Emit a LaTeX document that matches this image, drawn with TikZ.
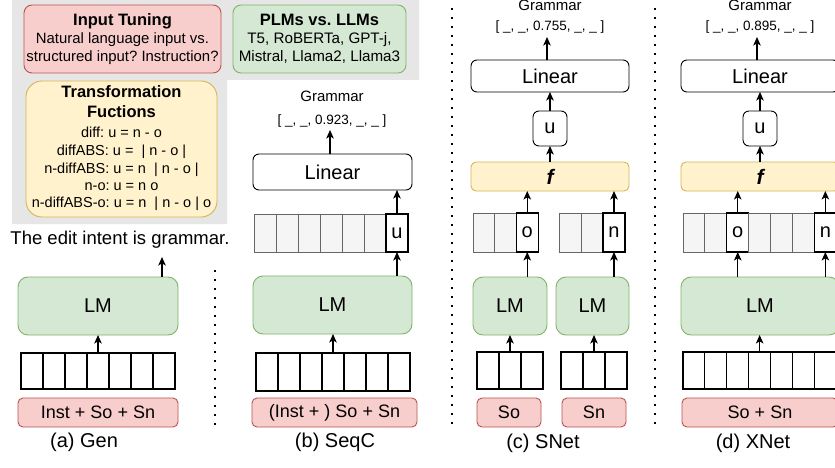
\documentclass[tikz,border=0pt]{standalone}
\usepackage{fontspec}
\setmainfont{Liberation Sans}
\usetikzlibrary{arrows.meta}
\definecolor{bggrey}{HTML}{E6E6E6}
\definecolor{redfill}{HTML}{F8CECC}
\definecolor{redline}{HTML}{B85450}
\definecolor{greenfill}{HTML}{D5E8D4}
\definecolor{greenline}{HTML}{82B366}
\definecolor{yelfill}{HTML}{FFF2CC}
\definecolor{yelline}{HTML}{D6B656}
\definecolor{cellgrey}{HTML}{F5F5F5}
\definecolor{cellline}{HTML}{666666}
\newcommand\fsz[1]{\fontsize{#1}{#1}\selectfont}
\frenchspacing
\tikzset{
  bx/.style={draw, inner sep=0pt, outer sep=0pt, line width=0.9pt},
  redbox/.style={bx, draw=redline, fill=redfill, rounded corners=5pt, font=\fsz{18}},
  greenbox/.style={bx, draw=greenline, fill=greenfill, rounded corners=10pt, font=\fsz{20}},
  linbox/.style={bx, draw=black, fill=white, rounded corners=6pt, font=\fsz{20}},
  fbox/.style={bx, draw=yelline, fill=yelfill, rounded corners=5pt, font=\fsz{21}\bfseries\itshape},
  tok/.style={bx, line width=1.1pt, draw=black, fill=white, anchor=north west},
  gcell/.style={bx, draw=cellline, fill=cellgrey, anchor=north west},
  wcell/.style={bx, line width=1.1pt, draw=black, fill=white, anchor=north west, font=\fsz{20}},
  arr/.style={-{Stealth[length=8.5pt,width=7.5pt,inset=2.2pt]}, line width=1.3pt},
  dotline/.style={line width=1.8pt, dash pattern=on 1.8pt off 7.2pt},
  txt/.style={inner sep=0pt, outer sep=0pt, text height=0.72em, text depth=0.2em},
  ttl/.style={txt, font=\fsz{16.5}\bfseries},
  sub/.style={txt, font=\fsz{15.2}},
  lst/.style={txt, font=\fsz{14.5}},
  captxt/.style={txt, font=\fsz{20}},
  gram/.style={txt, font=\fsz{15}},
  vec/.style={txt, font=\fsz{13.5}},
}
\begin{document}
\begin{tikzpicture}[x=1pt,y=-1pt]
\clip (0,0) rectangle (835,468);
\fill[white] (0,0) rectangle (835,468);
% grey background
\fill[bggrey] (12,0) -- (419,0) -- (419,80) -- (227,80) -- (227,224) -- (12,224) -- cycle;

% top boxes
\node[bx, draw=redline, fill=redfill, rounded corners=8pt, minimum width=197pt, minimum height=68pt] (itbox) at (122.5,39) {};
\node[ttl] (it1) at (122.5,23) {Input Tuning};
\node[sub, font=\fsz{14.9}] (it2) at (122.5,41) {Natural language input vs.};
\node[sub, font=\fsz{14.9}] (it3) at (122.5,59) {structured input? Instruction?};

\node[bx, draw=greenline, fill=greenfill, rounded corners=8pt, minimum width=173pt, minimum height=68pt] (plbox) at (319.5,39) {};
\node[ttl] (pl1) at (319.5,23) {PLMs vs. LLMs};
\node[sub] (pl2) at (319.5,41) {T5, RoBERTa, GPT-j,};
\node[sub] (pl3) at (319.5,59) {Mistral, Llama2, Llama3};

\node[bx, draw=yelline, fill=yelfill, rounded corners=16pt, minimum width=191pt, minimum height=136pt] (tfbox) at (121.5,149) {};
\node[ttl] (tf1) at (121.5,95) {Transformation};
\node[ttl] (tf2) at (121.5,115) {Fuctions};
\node[lst] (tf3) at (121.5,135) {diff: u = n - o};
\node[lst] (tf4) at (121.5,153) {diffABS: u =~ | n - o |};
\node[lst] (tf5) at (121.5,171) {n-diffABS: u = n~ | n - o |};
\node[lst] (tf6) at (121.5,188) {n-o: u = n o};
\node[lst] (tf7) at (121.5,205) {n-diffABS-o: u = n~ | n - o | o};

% dotted separators
\draw[dotline] (215,270) -- (215,425);
\draw[dotline] (452,8) -- (452,425);
\draw[dotline] (655,8) -- (655,425);

% ---------- (a) Gen ----------
\node[txt, font=\fsz{18.5}] (outtxt) at (120,242) {The edit intent is grammar.};
\coordinate (outa) at (162,257);
\node[greenbox, minimum width=160pt, minimum height=58pt] (lma) at (98,306) {LM};
\foreach \i in {1,...,7} \node[tok, minimum width=22pt, minimum height=36pt] (ta\i) at ({21+22*(\i-1)},353) {};
\node[redbox, minimum width=160pt, minimum height=29pt] (ina) at (98,412.5) {Inst + So + Sn};
\node[captxt] (capa) at (84,445) {(a) Gen};
\draw[arr] (lma.north -| outa) -- (outa);
\draw[arr] (ta4.north) -- (lma.south);

% ---------- (b) SeqC ----------
\node[gram] (gramb) at (332,99) {Grammar};
\node[vec] (vecb) at (332,122) {[ \_, \_, 0.923, \_, \_ ]};
\coordinate (outb) at (330,130);
\node[linbox, minimum width=159pt, minimum height=36pt] (linb) at (332.5,172) {Linear};
\foreach \i in {1,...,6} \node[gcell, minimum width=22pt, minimum height=38pt] (gb\i) at ({254+22*(\i-1)},214) {};
\node[wcell, minimum width=22pt, minimum height=38pt] (ub) at (386,214) {u};
\node[greenbox, minimum width=159pt, minimum height=58pt] (lmb) at (332.5,305) {LM};
\foreach \i in {1,...,7} \node[tok, minimum width=22pt, minimum height=38pt] (tb\i) at ({256+22*(\i-1)},353) {};
\node[redbox, minimum width=165pt, minimum height=29pt] (inb) at (334.5,412.5) {(Inst + ) So + Sn};
\node[captxt] (capb) at (335,445) {(b) SeqC};
\draw[arr] (linb.north -| outb) -- (outb);
\draw[arr] (ub.north) -- (ub.north |- linb.south);
\draw[arr] (lmb.north -| ub.south) -- (ub.south);
\draw[arr] (tb4.north) -- (tb4.north |- lmb.south);

% ---------- (c) SNet ----------
\node[gram] (gramc) at (550,8) {Grammar};
\node[vec] (vecc) at (550,28) {[ \_, \_, 0.755, \_, \_ ]};
\coordinate (outc) at (547,37);
\node[linbox, minimum width=158pt, minimum height=32pt] (linc) at (550,76) {Linear};
\node[linbox, minimum width=34pt, minimum height=35pt] (uc) at (550,128.5) {u};
\node[fbox, minimum width=158pt, minimum height=29pt] (fc) at (550,176.5) {f};
\foreach \i in {1,2} \node[gcell, minimum width=21.7pt, minimum height=39pt] (gc1\i) at ({473+21.7*(\i-1)},213) {};
\node[wcell, minimum width=21.7pt, minimum height=39pt] (oc) at (516.4,213) {o};
\foreach \i in {1,2} \node[gcell, minimum width=22pt, minimum height=39pt] (gc2\i) at ({559+22*(\i-1)},213) {};
\node[wcell, minimum width=22pt, minimum height=39pt] (nc) at (603,213) {n};
\node[greenbox, minimum width=74pt, minimum height=58pt] (lmc1) at (510,306) {LM};
\node[greenbox, minimum width=73pt, minimum height=58pt] (lmc2) at (592.5,306) {LM};
\foreach \i in {1,2,3} \node[tok, minimum width=22pt, minimum height=37pt] (tc1\i) at ({477+22*(\i-1)},352) {};
\foreach \i in {1,2,3} \node[tok, minimum width=22pt, minimum height=37pt] (tc2\i) at ({561+22*(\i-1)},352) {};
\node[redbox, minimum width=64pt, minimum height=29pt] (inc1) at (509,412.5) {So};
\node[redbox, minimum width=64pt, minimum height=29pt] (inc2) at (594,412.5) {Sn};
\node[captxt] (capc) at (543,446) {(c) SNet};
\draw[arr] (linc.north -| outc) -- (outc);
\draw[arr] (uc.north) -- (linc.south);
\draw[arr] (fc.north) -- (uc.south);
\draw[arr] (oc.north) -- (oc.north |- fc.south);
\draw[arr] (nc.north) -- (nc.north |- fc.south);
\draw[arr] (lmc1.north -| oc.south) -- (oc.south);
\draw[arr] (lmc2.north -| nc.south) -- (nc.south);
\draw[arr] (tc12.north) -- (tc12.north |- lmc1.south);
\draw[arr] (tc22.north) -- (tc22.north |- lmc2.south);

% ---------- (d) XNet ----------
\node[gram] (gramd) at (760,8) {Grammar};
\node[vec] (vecd) at (760,28) {[ \_, \_, 0.895, \_, \_ ]};
\coordinate (outd) at (757,37);
\node[linbox, minimum width=158pt, minimum height=32pt] (lind) at (760,76) {Linear};
\node[linbox, minimum width=34pt, minimum height=35pt] (ud) at (760,128.5) {u};
\node[fbox, minimum width=158pt, minimum height=29pt] (fd) at (760,176.5) {f};
\node[gcell, minimum width=21.9pt, minimum height=39pt] (gd1) at (683,213) {};
\node[gcell, minimum width=21.9pt, minimum height=39pt] (gd2) at (704.9,213) {};
\node[wcell, minimum width=21.9pt, minimum height=39pt] (od) at (726.8,213) {o};
\node[gcell, minimum width=21.9pt, minimum height=39pt] (gd4) at (748.7,213) {};
\node[gcell, minimum width=21.9pt, minimum height=39pt] (gd5) at (770.6,213) {};
\node[gcell, minimum width=21.9pt, minimum height=39pt] (gd6) at (792.5,213) {};
\node[wcell, minimum width=21.9pt, minimum height=39pt] (nd) at (814.4,213) {n};
\node[greenbox, minimum width=158pt, minimum height=58pt] (lmd) at (760,306) {LM};
\foreach \i in {1,...,7} \node[tok, minimum width=21.9pt, minimum height=37pt] (td\i) at ({683+21.9*(\i-1)},352) {};
\node[redbox, minimum width=156pt, minimum height=29pt] (ind) at (760,412.5) {So + Sn};
\node[captxt] (capd) at (753,446) {(d) XNet};
\draw[arr] (lind.north -| outd) -- (outd);
\draw[arr] (ud.north) -- (lind.south);
\draw[arr] (fd.north) -- (ud.south);
\draw[arr] (od.north) -- (od.north |- fd.south);
\draw[arr] (nd.north) -- (nd.north |- fd.south);
\draw[arr] (lmd.north -| od.south) -- (od.south);
\draw[arr] (lmd.north -| nd.south) -- (nd.south);
\draw[arr] (td4.north) -- (td4.north |- lmd.south);
\end{tikzpicture}
\end{document}
